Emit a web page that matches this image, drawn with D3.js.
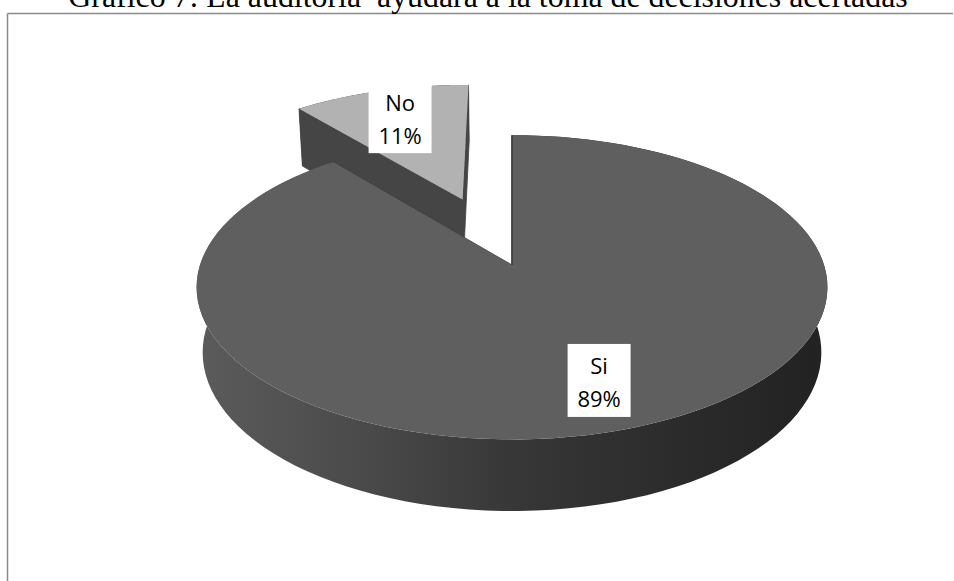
<!DOCTYPE html>
<html>
<head>
<meta charset="utf-8">
<script src="https://cdn.jsdelivr.net/npm/d3@7"></script>
<style>
  html, body { margin: 0; padding: 0; background: #ffffff; }
  svg { display: block; }
</style>
</head>
<body>
<svg id="chart" width="954" height="581"></svg>
<script>
// ---- data ----
const titleText = "Gráfico 7: La auditoría  ayudará a la toma de decisiones acertadas";
const categories = ["Si", "No"];
const values = [89, 11];
const explodeAmount = [0, 0.5];
const topColors = ["#5f5f5f", "#b2b2b2"];
const wallColors = ["#3c3c3c", "#454545"];

// ---- geometry ----
const W = 954, H = 581;
const cx = 512, cy = 265, kR = 312;
const tilt = 28.5 * Math.PI / 180;
const sa = Math.sin(tilt), ca = Math.cos(tilt);
const dist = 6.0;       // camera distance, in radius units
const depth = 0.24;     // thickness, in radius units

const xS = d3.scaleLinear().domain([-1, 1]).range([cx - kR, cx + kR]);
const yS = d3.scaleLinear().domain([-1, 1]).range([cy + kR, cy - kR]);

function project(X, Y, Z) {
  const yv = Y * ca - Z * sa;
  const zv = Y * sa + Z * ca;
  const s = dist / (dist - zv);
  return [xS(X * s), yS(yv * s)];
}
function pt(theta, r, Y, off) {
  return project(off[0] + r * Math.sin(theta), Y, off[1] - r * Math.cos(theta));
}

const svg = d3.select("#chart");
const defs = svg.append("defs");
const grad = defs.append("linearGradient")
  .attr("id", "sideGrad").attr("gradientUnits", "userSpaceOnUse")
  .attr("x1", xS(-1)).attr("x2", xS(1)).attr("y1", 0).attr("y2", 0);
[[0, "#5b5b5b"], [0.25, "#4b4b4b"], [0.5, "#373737"], [0.75, "#2c2c2c"], [1, "#222222"]]
  .forEach(([o, c]) => grad.append("stop").attr("offset", o).attr("stop-color", c));

// frame
svg.append("line").attr("x1", 7.5).attr("x2", 953).attr("y1", 13.5).attr("y2", 13.5)
  .attr("stroke", "#8a8a8a").attr("stroke-width", 1.5);
svg.append("line").attr("x1", 7.5).attr("x2", 7.5).attr("y1", 13.5).attr("y2", H)
  .attr("stroke", "#8a8a8a").attr("stroke-width", 1.5);

const pie = d3.pie().sort(null).value(d => d)(values);
const line = d3.line();
const N = 120;

function arcPts(a0, a1, Y, off) {
  const pts = [];
  for (let i = 0; i <= N; i++) pts.push(pt(a0 + (a1 - a0) * i / N, 1, Y, off));
  return pts;
}

const slices = pie.map((p, i) => {
  const mid = (p.startAngle + p.endAngle) / 2;
  const e = explodeAmount[i];
  return { p, i, off: [e * Math.sin(mid), -e * Math.cos(mid)], mid };
});

// back slice first (No), then front (Si)
const order = [1, 0];
const g = svg.append("g");
order.forEach(idx => {
  const s = slices[idx];
  const { p, off } = s;
  const sg = g.append("g");
  const topArc = arcPts(p.startAngle, p.endAngle, 0, off);
  const botArc = arcPts(p.startAngle, p.endAngle, -depth, off).reverse();
  sg.append("path").attr("d", line(topArc.concat(botArc)) + "Z")
    .attr("fill", idx === 0 ? "url(#sideGrad)" : "#3a3a3a");
  [p.endAngle, p.startAngle].forEach(a => {
    const quad = [pt(0, 0, 0, off), pt(a, 1, 0, off), pt(a, 1, -depth, off), pt(0, 0, -depth, off)];
    sg.append("path").attr("d", line(quad) + "Z")
      .attr("fill", wallColors[idx]).attr("stroke", wallColors[idx]).attr("stroke-width", 0.8);
  });
  const face = [pt(0, 0, 0, off)].concat(arcPts(p.startAngle, p.endAngle, 0, off));
  sg.append("path").attr("d", line(face) + "Z").attr("fill", topColors[idx]);
});

// edge line for the Si slice start (wall seen edge-on)
{
  const s = slices[0];
  const a = pt(s.p.startAngle, 1, 0, s.off), c = pt(0, 0, 0, s.off);
  g.append("line").attr("x1", a[0]).attr("y1", a[1]).attr("x2", c[0]).attr("y2", c[1])
    .attr("stroke", "#333").attr("stroke-width", 1.2);
}

// labels
const labelR = 0.74;
const total = d3.sum(values);
slices.forEach(s => {
  const [lx, ly] = pt(s.mid, labelR, 0, s.off);
  const lg = svg.append("g").attr("transform", `translate(${lx},${ly})`);
  lg.append("rect").attr("x", -31.5).attr("y", -36.5).attr("width", 63).attr("height", 73).attr("fill", "#fff");
  const t = lg.append("text").attr("text-anchor", "middle")
    .attr("font-family", "'Open Sans', sans-serif").attr("font-size", 22).attr("fill", "#000");
  t.append("tspan").attr("x", 0).attr("y", -6).text(categories[s.i]);
  t.append("tspan").attr("x", 0).attr("y", 27).text(Math.round(values[s.i] / total * 100) + "%");
});

// title (top of it is cut by the page edge, as in the reference)
const title = svg.append("text").attr("x", 488).attr("y", 7).attr("text-anchor", "middle")
  .attr("font-family", "'Liberation Serif', 'Times New Roman', serif").attr("font-size", 26)
  .style("white-space", "pre").attr("fill", "#000").text(titleText);
const tw = title.node().getComputedTextLength();
title.attr("font-size", 26 * 840 / tw);
</script>
</body>
</html>
